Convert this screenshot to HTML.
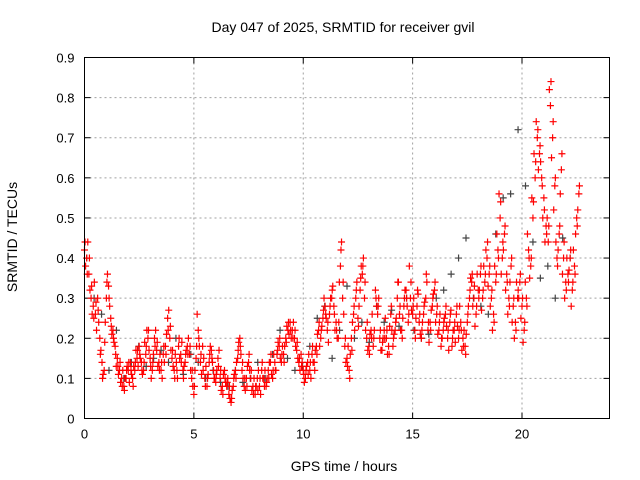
<!DOCTYPE html>
<html><head><meta charset="utf-8"><style>
body{margin:0;background:#fff}
svg{display:block;font-family:"Liberation Sans",sans-serif}
</style></head><body>
<svg id="chart" width="640" height="480">
<text x="343" y="32" font-size="14" text-anchor="middle">Day 047 of 2025, SRMTID for receiver gvil</text>
<text x="344" y="471" font-size="14" text-anchor="middle">GPS time / hours</text>
<text transform="translate(17,237) rotate(-90)" font-size="14" text-anchor="middle">SRMTID / TECUs</text>
<g id="grid"></g>
<g id="ticks"></g>
<g id="pts"></g>
<rect x="84.5" y="57.5" width="525" height="361" fill="none" stroke="#000"/>
</svg>
<script>
const xTicks=[0,5,10,15,20];
const yTicks=[0,0.1,0.2,0.3,0.4,0.5,0.6,0.7,0.8,0.9];
const yTickLabels=["0","0.1","0.2","0.3","0.4","0.5","0.6","0.7","0.8","0.9"];
const redA=[0.42,0.40,0.36,0.30,0.28,0.26,0.30,0.20,0.14,0.12,0.30,0.33,0.25,0.22,0.18,0.15,0.12,0.10,0.08,0.10,0.12,0.14,0.10,0.12,0.15,0.18,0.14,0.12,0.16,0.20,0.15,0.12,0.20,0.17,0.14,0.12,0.16,0.18,0.25,0.20,0.15,0.12,0.14,0.18,0.16,0.12,0.14,0.18,0.16,0.10,0.06,0.15,0.22,0.14,0.18,0.10,0.08,0.14,0.17,0.12,0.09,0.15,0.10,0.08,0.12,0.08,0.06,0.04,0.08,0.12,0.15,0.20,0.12,0.08,0.10,0.14,0.10,0.08,0.06,0.10,0.08,0.12,0.10,0.08,0.12,0.14,0.10,0.14,0.16,0.18,0.14,0.16,0.20,0.22,0.24,0.22,0.20,0.17,0.14,0.16,0.12,0.10,0.14,0.12,0.16,0.14,0.18,0.22,0.20,0.25,0.28,0.22,0.26,0.30,0.28,0.24,0.20,0.38,0.30,0.18,0.15,0.12,0.20,0.26,0.30,0.25,0.32,0.36,0.30,0.20,0.18,0.22,0.18,0.32,0.26,0.20,0.17,0.22,0.20,0.18,0.26,0.18,0.22,0.30,0.26,0.22,0.28,0.32,0.24,0.30,0.26,0.22,0.28,0.24,0.20,0.26,0.30,0.22,0.24,0.28,0.32,0.26,0.22,0.18,0.22,0.26,0.20,0.24,0.18,0.22,0.26,0.20,0.24,0.20,0.18,0.24,0.30,0.34,0.30,0.26,0.32,0.36,0.30,0.34,0.40,0.36,0.30,0.26,0.34,0.42,0.50,0.40,0.46,0.36,0.30,0.38,0.28,0.24,0.30,0.34,0.28,0.22,0.30,0.42,0.38,0.50,0.60,0.70,0.66,0.60,0.55,0.48,0.44,0.78,0.70,0.58,0.40,0.46,0.62,0.40,0.34,0.36,0.40,0.32,0.38,0.50,0.56];
const redB=[0.38,0.44,0.32,0.26,0.34,0.22,0.24,0.17,0.11,0.24,0.36,0.28,0.21,0.19,0.13,0.11,0.09,0.12,0.10,0.13,0.09,0.11,0.13,0.17,0.13,0.15,0.11,0.19,0.22,0.17,0.10,0.16,0.22,0.13,0.16,0.10,0.14,0.21,0.27,0.17,0.13,0.16,0.10,0.15,0.19,0.13,0.17,0.20,0.12,0.08,0.12,0.26,0.18,0.11,0.15,0.13,0.11,0.18,0.14,0.10,0.12,0.17,0.07,0.11,0.09,0.10,0.05,0.07,0.11,0.14,0.19,0.16,0.10,0.07,0.13,0.12,0.07,0.10,0.08,0.12,0.06,0.10,0.12,0.10,0.14,0.11,0.16,0.12,0.19,0.15,0.18,0.18,0.23,0.21,0.20,0.24,0.18,0.15,0.12,0.14,0.09,0.13,0.16,0.10,0.14,0.17,0.21,0.18,0.23,0.30,0.25,0.19,0.30,0.33,0.22,0.20,0.34,0.44,0.26,0.14,0.18,0.16,0.24,0.22,0.34,0.28,0.38,0.40,0.22,0.17,0.21,0.26,0.22,0.28,0.30,0.17,0.20,0.25,0.16,0.23,0.22,0.21,0.25,0.34,0.22,0.25,0.32,0.28,0.38,0.27,0.30,0.25,0.31,0.21,0.24,0.29,0.34,0.19,0.27,0.31,0.24,0.21,0.26,0.20,0.25,0.23,0.17,0.27,0.22,0.19,0.23,0.28,0.17,0.22,0.21,0.28,0.35,0.28,0.23,0.36,0.32,0.27,0.38,0.42,0.33,0.28,0.22,0.38,0.46,0.56,0.36,0.42,0.32,0.26,0.34,0.24,0.20,0.34,0.30,0.25,0.19,0.34,0.46,0.35,0.55,0.66,0.74,0.62,0.64,0.50,0.44,0.50,0.82,0.65,0.52,0.44,0.42,0.56,0.36,0.30,0.40,0.37,0.28,0.42,0.46,0.52];
const redC=[0.44,0.36,0.40,0.33,0.25,0.29,0.27,0.16,0.10,0.19,0.34,0.30,0.23,0.20,0.16,0.13,0.14,0.08,0.07,0.12,0.14,0.12,0.08,0.14,0.17,0.16,0.12,0.14,0.18,0.22,0.13,0.14,0.18,0.19,0.12,0.14,0.18,0.16,0.22,0.23,0.17,0.10,0.12,0.20,0.14,0.10,0.16,0.16,0.18,0.12,0.08,0.18,0.20,0.16,0.12,0.08,0.10,0.16,0.15,0.10,0.11,0.13,0.12,0.06,0.10,0.09,0.08,0.05,0.10,0.10,0.17,0.18,0.14,0.10,0.08,0.16,0.12,0.06,0.08,0.07,0.10,0.14,0.08,0.09,0.10,0.16,0.12,0.12,0.17,0.20,0.16,0.14,0.19,0.24,0.22,0.20,0.22,0.19,0.15,0.13,0.11,0.12,0.11,0.14,0.18,0.12,0.16,0.24,0.22,0.27,0.26,0.24,0.28,0.32,0.26,0.22,0.24,0.42,0.34,0.20,0.13,0.10,0.17,0.28,0.32,0.23,0.35,0.38,0.34,0.24,0.16,0.20,0.20,0.30,0.28,0.22,0.19,0.20,0.22,0.16,0.28,0.20,0.24,0.34,0.28,0.20,0.30,0.30,0.26,0.34,0.28,0.20,0.32,0.26,0.22,0.28,0.36,0.24,0.22,0.30,0.34,0.28,0.24,0.20,0.24,0.28,0.22,0.26,0.20,0.24,0.28,0.22,0.22,0.18,0.16,0.26,0.32,0.36,0.33,0.28,0.30,0.38,0.32,0.36,0.44,0.38,0.32,0.24,0.36,0.40,0.54,0.44,0.48,0.34,0.28,0.40,0.30,0.22,0.32,0.36,0.30,0.24,0.28,0.40,0.40,0.54,0.64,0.72,0.68,0.58,0.52,0.46,0.48,0.84,0.74,0.60,0.38,0.48,0.66,0.44,0.32,0.34,0.42,0.34,0.36,0.48,0.58];
const grayV=[0.40,0.30,0.26,0.12,0.22,0.10,0.14,0.18,0.13,0.15,0.17,0.14,0.20,0.11,0.16,0.14,0.10,0.12,0.09,0.08,0.12,0.09,0.10,0.14,0.10,0.16,0.22,0.15,0.12,0.13,0.18,0.25,0.28,0.15,0.22,0.33,0.20,0.24,0.19,0.28,0.24,0.27,0.23,0.30,0.22,0.20,0.21,0.30,0.32,0.36,0.40,0.45,0.30,0.28,0.26,0.46,0.55,0.56,0.72,0.58,0.44,0.35,0.38,0.30,0.45,0.40];
const xMin=0,xMax=24,yMin=0,yMax=0.9;
const L=84.5,R=609.5,T=57.5,B=418.5;
const sx=v=>L+(v-xMin)/(xMax-xMin)*(R-L);
const sy=v=>B-(v-yMin)/(yMax-yMin)*(B-T);
const NS="http://www.w3.org/2000/svg";
const grid=document.getElementById('grid'),ticks=document.getElementById('ticks'),pts=document.getElementById('pts');
function mk(tag,attrs,parent){const e=document.createElementNS(NS,tag);for(const k in attrs)e.setAttribute(k,attrs[k]);parent.appendChild(e);return e;}
yTicks.forEach((v,i)=>{
  const y=sy(v);
  if(i>0&&i<yTicks.length-1){const g=mk('line',{x1:L,x2:R,y1:y,y2:y,stroke:'#a0a0a0','stroke-dasharray':'2,3'},grid);
  
  }
  mk('line',{x1:L,x2:L+6,y1:y,y2:y,stroke:'#000'},ticks);
  mk('line',{x1:R-6,x2:R,y1:y,y2:y,stroke:'#000'},ticks);
  const t=mk('text',{x:L-10,y:y+5,'font-size':13,'text-anchor':'end'},ticks);t.textContent=yTickLabels[i];
  
  
});
xTicks.forEach(v=>{
  const x=sx(v);
  if(v>0){const g=mk('line',{x1:x,x2:x,y1:T,y2:B,stroke:'#a0a0a0','stroke-dasharray':'2,3'},grid);
  
  }
  mk('line',{x1:x,x2:x,y1:B-6,y2:B,stroke:'#000'},ticks);
  mk('line',{x1:x,x2:x,y1:T,y2:T+6,stroke:'#000'},ticks);
  const t=mk('text',{x:x,y:B+20,'font-size':13,'text-anchor':'middle'},ticks);t.textContent=String(v);
  
  
});
function cross(t,v,color,name){
  const x=sx(t),y=sy(v);
  const p=mk('path',{d:`M${x-3.5} ${y}H${x+3.5}M${x} ${y-3.5}V${y+3.5}`,stroke:color,'stroke-width':1.2,fill:'none'},pts);
  
  
}
grayV.forEach((v,i)=>cross(i*0.34+0.1,v,'#444','gray-point'));
redA.forEach((v,i)=>cross(i*0.1,v,'#ff0000','red-point'));
redB.forEach((v,i)=>cross(i*0.1+0.05,v,'#ff0000','red-point'));
redC.forEach((v,i)=>cross(i*0.1+0.025,v,'#ff0000','red-point'));
</script>
</body></html>
